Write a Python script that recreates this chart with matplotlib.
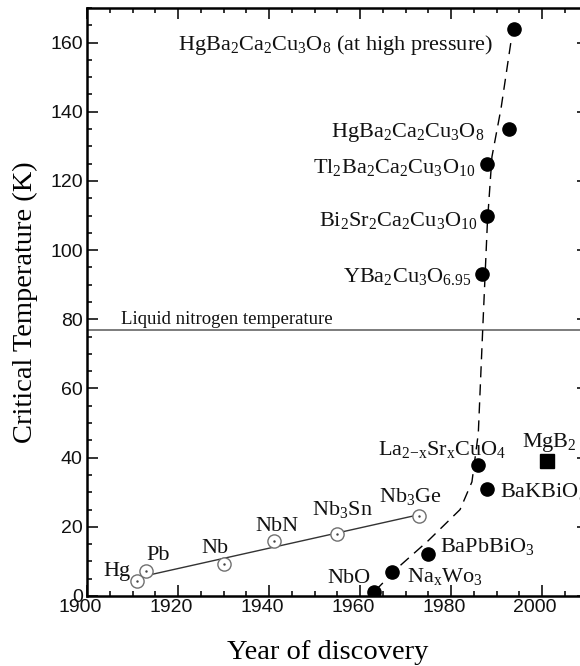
import matplotlib
matplotlib.use("Agg")
import matplotlib.pyplot as plt
from matplotlib.ticker import MultipleLocator
import matplotlib.transforms as mtransforms
import numpy as np

plt.rcParams['mathtext.fontset'] = 'custom'
plt.rcParams['mathtext.rm'] = 'Liberation Serif'
plt.rcParams['mathtext.it'] = 'Liberation Serif:italic'
plt.rcParams['mathtext.default'] = 'regular'
plt.rcParams['font.family'] = ['Liberation Serif', 'DejaVu Serif']

# ---- data ----
conv_names = ['Hg', 'Pb', 'Nb', 'NbN', r'Nb$_3$Sn', r'Nb$_3$Ge']
conv_years = [1911, 1913, 1930, 1941, 1955, 1973]
conv_tc = [4.2, 7.2, 9.3, 16.0, 18.0, 23.2]

oxide_names = ['NbO', r'Na$_x$Wo$_3$', r'BaPbBiO$_3$', r'La$_{2\mathrm{-}x}$Sr$_x$CuO$_4$',
               r'BaKBiO$_3$', r'YBa$_2$Cu$_3$O$_{6.95}$', r'Bi$_2$Sr$_2$Ca$_2$Cu$_3$O$_{10}$',
               r'Tl$_2$Ba$_2$Ca$_2$Cu$_3$O$_{10}$', r'HgBa$_2$Ca$_2$Cu$_3$O$_8$',
               r'HgBa$_2$Ca$_2$Cu$_3$O$_8$ (at high pressure)']
oxide_years = [1963, 1967, 1975, 1986, 1988, 1986.8, 1988, 1988, 1992.7, 1993.8]
oxide_tc = [1.2, 7.0, 12.2, 38.0, 31.0, 93.0, 110.0, 125.0, 135.0, 164.0]

mgb2_name = r'MgB$_2$'
mgb2_year = [2001]
mgb2_tc = [39]

trend_years = [1963.3, 1969, 1975, 1982, 1984.6, 1986, 1987, 1988, 1989, 1991, 1993.6]
trend_tc = [1.5, 9, 16, 25, 33, 47, 78, 108, 127, 141, 164]

ln2_temp = 77
ln2_label = 'Liquid nitrogen temperature'

# label placement (offset in pixels, alignment)
conv_offsets = [(-7, 5, 'right'), (0, 11, 'left'), (-22, 11, 'left'), (-18, 10, 'left'),
                (-25, 19, 'left'), (-40, 14, 'left')]
oxide_offsets = [(-3, 9, 'right'), (15, -10, 'left'), (12, 2, 'left'), (-100, 10, 'left'),
                 (13, -8, 'left'), (-10, -8, 'right'), (-10, -10, 'right'),
                 (-12, -9, 'right'), (-24, -8, 'right'), (-21, -21, 'right')]
mgb2_offset = (-25, 14, 'left')

# ---- figure ----
fig = plt.figure(figsize=(5.8, 6.66), dpi=100)
ax = fig.add_axes([87/580, 1 - 596/666, 500.5/580, 588/666])

ax.axhline(ln2_temp, color='#666666', lw=1.2, zorder=1)
ax.text(1907.5, ln2_temp + 0.6, ln2_label, fontsize=13.5, ha='left', va='bottom', color='#111111')

# linear fit through conventional superconductors
coef = np.polyfit(conv_years, conv_tc, 1)
fx = np.array([min(conv_years) + 1, max(conv_years)])
ax.plot(fx, np.polyval(coef, fx), color='#333333', lw=1.0, zorder=2)

ax.plot(trend_years, trend_tc, color='black', lw=1.0, dashes=(8, 5), zorder=2)

ax.plot(conv_years, conv_tc, 'o', ms=9.5, mfc='white', mec='#707070', mew=1.0, zorder=3)
ax.plot(conv_years, conv_tc, '.', ms=1.5, color='#444444', zorder=4)
ax.plot(oxide_years, oxide_tc, 'o', ms=9.5, color='black', zorder=3)
ax.plot(mgb2_year, mgb2_tc, 's', ms=9.5, color='black', zorder=3)

def label(name, x, y, off):
    dx, dy, ha = off
    ax.annotate(name, (x, y), xytext=(dx, dy), textcoords='offset pixels',
                ha=ha, va='baseline', fontsize=16, color='#111111')

for n, x, y, o in zip(conv_names, conv_years, conv_tc, conv_offsets):
    label(n, x, y, o)
for n, x, y, o in zip(oxide_names, oxide_years, oxide_tc, oxide_offsets):
    label(n, x, y, o)
label(mgb2_name, mgb2_year[0], mgb2_tc[0], mgb2_offset)

ax.set_xlim(1900, 2010)
ax.set_ylim(0, 170)
ax.xaxis.set_major_locator(MultipleLocator(20))
ax.xaxis.set_minor_locator(MultipleLocator(5))
ax.yaxis.set_major_locator(MultipleLocator(20))
ax.yaxis.set_minor_locator(MultipleLocator(5))
ax.tick_params(which='both', direction='in', top=True, right=True, width=1.2, colors='#111111')
ax.tick_params(which='major', length=8)
ax.tick_params(which='minor', length=3.8)
ax.tick_params(axis='x', which='major', pad=2)
ax.tick_params(axis='y', which='major', pad=3)
shift = mtransforms.ScaledTranslation(-7/100, 0, fig.dpi_scale_trans)
for t in ax.get_xticklabels():
    t.set_transform(t.get_transform() + shift)
for t in ax.get_xticklabels() + ax.get_yticklabels():
    t.set_fontfamily('Liberation Sans')
    t.set_fontsize(14)
for s in ax.spines.values():
    s.set_linewidth(1.8)

ax.set_xlabel('Year of discovery', fontsize=20.5)
ax.set_ylabel('Critical Temperature (K)', fontsize=20.5)
ax.xaxis.set_label_coords(0.48, -0.075)
ax.yaxis.set_label_coords(-0.098, 0.5)

fig.savefig('out.png', dpi=100)
